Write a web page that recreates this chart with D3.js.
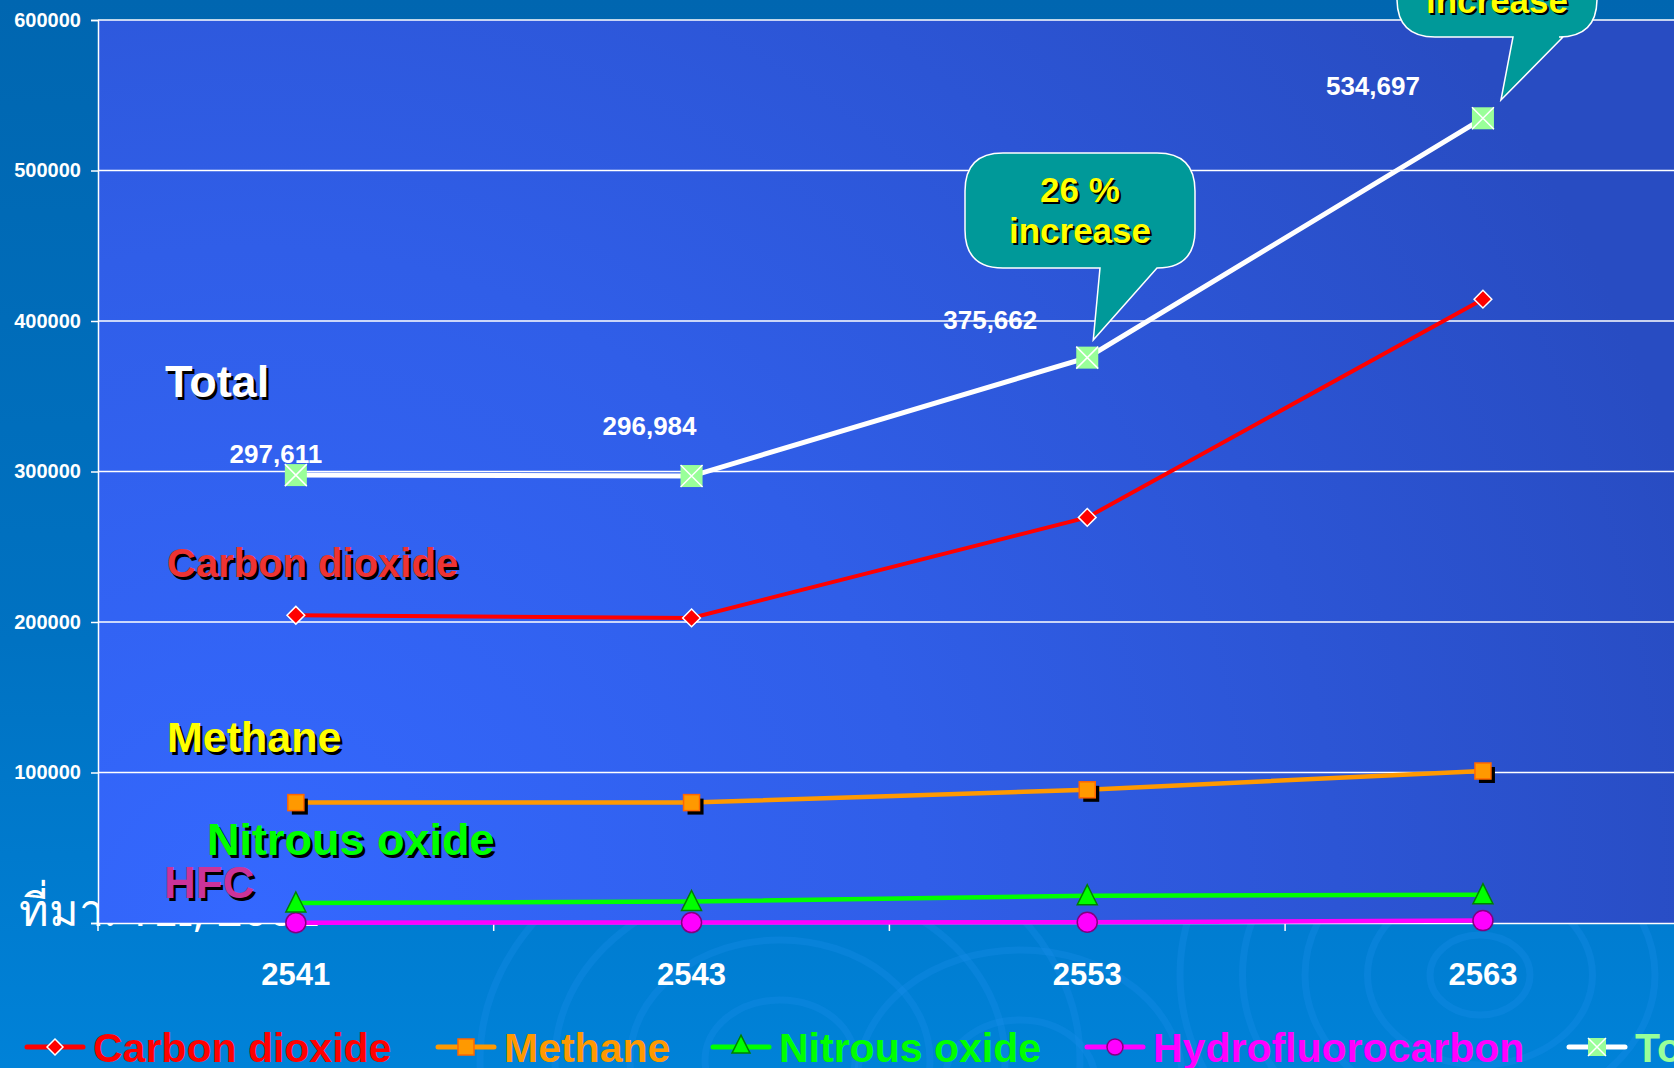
<!DOCTYPE html>
<html>
<head>
<meta charset="utf-8">
<script src="https://cdn.jsdelivr.net/npm/d3@7"></script>
<style>
  html, body { margin: 0; padding: 0; background: #0070c0; overflow: hidden; }
  svg { display: block; }
  text { font-family: "Liberation Sans", Arial, sans-serif; font-weight: bold; }
</style>
</head>
<body>
<svg id="chart" width="1674" height="1068"></svg>
<script>
// ---- data ----
const years = ["2541", "2543", "2553", "2563"];
const carbonDioxide = [204500, 202700, 269500, 414500];
const methane = [80000, 80000, 88500, 101000];
const nitrousOxide = [13300, 14300, 18100, 18800];
const hfc = [200, 300, 500, 1600];
const total = [297611, 296984, 375662, 534697];
const totalLabels = ["297,611", "296,984", "375,662", "534,697"];
const yTicks = [0, 100000, 200000, 300000, 400000, 500000, 600000];
const legendNames = ["Carbon dioxide", "Methane", "Nitrous oxide", "Hydrofluorocarbon", "Total"];

const W = 1674, H = 1068;
const svg = d3.select("#chart");
const defs = svg.append("defs");

// backgrounds
const bg = defs.append("linearGradient").attr("id", "bg").attr("x1", 0).attr("y1", 0).attr("x2", 0).attr("y2", 1);
bg.append("stop").attr("offset", "0%").attr("stop-color", "#0066b0");
bg.append("stop").attr("offset", "60%").attr("stop-color", "#0072c2");
bg.append("stop").attr("offset", "100%").attr("stop-color", "#0082d8");
svg.append("rect").attr("width", W).attr("height", H).attr("fill", "url(#bg)");

// ripple decoration
const ripples = svg.append("g").attr("fill", "none").attr("stroke", "#1a90ec").attr("stroke-opacity", 0.3).attr("stroke-width", 7);
[[1480, 975, [40, 90, 140, 190, 240]], [780, 1060, [60, 120, 180, 240]], [1020, 1080, [60, 130]]].forEach(([cx, cy, rs]) => {
  rs.forEach(r => ripples.append("ellipse").attr("cx", cx).attr("cy", cy).attr("rx", r * 1.25).attr("ry", r));
});

const x = d3.scaleBand().domain(years).range([98, 98 + 4 * 395.7]).paddingInner(0).paddingOuter(0);
const y = d3.scaleLinear().domain([0, 600000]).range([923, 20]);
const cx = d => x(d) + x.bandwidth() / 2;

// source text (mostly hidden behind plot)
svg.append("text").attr("x", 19).attr("y", 926).attr("fill", "#ffffff")
  .attr("font-size", 45).style("font-family", "'Noto Sans', 'DejaVu Sans', sans-serif").style("font-weight", "normal")
  .text("ที่มา: TEI, 2002");

// plot area
const pg = defs.append("radialGradient").attr("id", "plotbg").attr("gradientUnits", "userSpaceOnUse")
  .attr("cx", 250).attr("cy", 923).attr("r", 1500);
pg.append("stop").attr("offset", "0%").attr("stop-color", "#3468ff");
pg.append("stop").attr("offset", "45%").attr("stop-color", "#305ee8");
pg.append("stop").attr("offset", "100%").attr("stop-color", "#284cc2");
svg.append("rect").attr("x", 98).attr("y", 20).attr("width", W - 98).attr("height", 903).attr("fill", "url(#plotbg)");

// gridlines
svg.append("g").selectAll("line").data(yTicks.slice(1)).join("line")
  .attr("x1", 98).attr("x2", W).attr("y1", d => y(d)).attr("y2", d => y(d))
  .attr("stroke", "#ffffff").attr("stroke-width", 1.5);

// y axis
const yAxis = svg.append("g").attr("transform", "translate(98,0)")
  .call(d3.axisLeft(y).tickValues(yTicks).tickSize(7).tickPadding(10).tickFormat(d3.format("d")));
yAxis.select(".domain").attr("stroke", "#fff").attr("stroke-width", 1.5);
yAxis.selectAll(".tick line").attr("stroke", "#fff").attr("stroke-width", 1.5);
yAxis.selectAll(".tick text").attr("fill", "#fff").attr("font-size", 20).style("font-family", "'Liberation Sans', Arial, sans-serif").style("font-weight", "bold");
yAxis.selectAll(".tick").filter(d => d === 0).select("text").remove();

// x axis
const xAxis = svg.append("g").attr("transform", "translate(0,923)")
  .call(d3.axisBottom(x).tickSize(0).tickPadding(0));
xAxis.select(".domain").attr("stroke", "#fff").attr("stroke-width", 1.5);
xAxis.selectAll(".tick text").attr("fill", "#fff").attr("font-size", 31).attr("y", 62).attr("dy", 0)
  .style("font-family", "'Liberation Sans', Arial, sans-serif").style("font-weight", "bold");
// boundary tick marks
const bounds = years.map(d => x(d)).concat([x(years[3]) + x.bandwidth()]);
svg.append("g").selectAll("line").data(bounds).join("line")
  .attr("x1", d => d).attr("x2", d => d).attr("y1", 923).attr("y2", 931)
  .attr("stroke", "#fff").attr("stroke-width", 1.5);

// shadowed text helper
function sText(g, tx, ty, str, size, fill, anchor = "start", off = 2.5) {
  g.append("text").attr("x", tx + off).attr("y", ty + off).attr("font-size", size).attr("fill", "#000").attr("text-anchor", anchor).text(str);
  g.append("text").attr("x", tx).attr("y", ty).attr("font-size", size).attr("fill", fill).attr("text-anchor", anchor).text(str);
}

// series label annotations
const ann = svg.append("g");
sText(ann, 165, 397, "Total", 45, "#ffffff");
sText(ann, 167, 577, "Carbon dioxide", 40, "#ee3333");
sText(ann, 167, 752, "Methane", 43, "#ffff00");
sText(ann, 207, 855, "Nitrous oxide", 45, "#00ff00");
sText(ann, 164, 898, "HFC", 44, "#cc3399");

// lines
const line = d3.line().x((d, i) => cx(years[i])).y(d => y(d));
const series = [
  { vals: hfc, color: "#ff00ff", w: 4.5 },
  { vals: nitrousOxide, color: "#00ff00", w: 4.5 },
  { vals: methane, color: "#ff9900", w: 4.5 },
  { vals: carbonDioxide, color: "#ff0000", w: 4 },
  { vals: total, color: "#ffffff", w: 5 }
];
const lg = svg.append("g").attr("fill", "none");
series.forEach(s => lg.append("path").datum(s.vals).attr("d", line).attr("stroke", s.color).attr("stroke-width", s.w));

// markers
function marker(g, type, px, py, s) {
  if (type === "diamond") {
    g.append("path").attr("d", d3.symbol(d3.symbolDiamond2, s * s * 0.5)()).attr("transform", `translate(${px},${py})`)
      .attr("fill", "#ff0000").attr("stroke", "#ffffff").attr("stroke-width", 1.5);
  } else if (type === "square") {
    g.append("rect").attr("x", px - s / 2 + 4).attr("y", py - s / 2 + 4).attr("width", s).attr("height", s).attr("fill", "#000");
    g.append("rect").attr("x", px - s / 2).attr("y", py - s / 2).attr("width", s).attr("height", s)
      .attr("fill", "#ff9900").attr("stroke", "#ff6600").attr("stroke-width", 1.5);
  } else if (type === "triangle") {
    g.append("path").attr("d", `M${px},${py - s * 0.55} L${px + s / 2},${py + s * 0.45} L${px - s / 2},${py + s * 0.45} Z`)
      .attr("fill", "#00ff00").attr("stroke", "#008000").attr("stroke-width", 1.5);
  } else if (type === "circle") {
    g.append("circle").attr("cx", px).attr("cy", py).attr("r", s / 2).attr("fill", "#ff00ff").attr("stroke", "#800080").attr("stroke-width", 1.5);
  } else if (type === "xsquare") {
    g.append("rect").attr("x", px - s / 2).attr("y", py - s / 2).attr("width", s).attr("height", s).attr("fill", "#99ff99");
    g.append("path").attr("d", `M${px - s / 2},${py - s / 2} L${px + s / 2},${py + s / 2} M${px + s / 2},${py - s / 2} L${px - s / 2},${py + s / 2}`)
      .attr("stroke", "#ffffff").attr("stroke-width", 1.5);
  }
}
const mg = svg.append("g");
years.forEach((yr, i) => {
  marker(mg, "circle", cx(yr), y(hfc[i]), 20);
  marker(mg, "triangle", cx(yr), y(nitrousOxide[i]), 20);
  marker(mg, "square", cx(yr), y(methane[i]), 16);
  marker(mg, "diamond", cx(yr), y(carbonDioxide[i]), 20);
  marker(mg, "xsquare", cx(yr), y(total[i]), 22);
});

// total value labels
const labelOffsets = [[-20, -12], [-42, -41], [-97, -29], [-110, -23]];
years.forEach((yr, i) => {
  svg.append("text").attr("x", cx(yr) + labelOffsets[i][0]).attr("y", y(total[i]) + labelOffsets[i][1])
    .attr("fill", "#fff").attr("font-size", 26).attr("text-anchor", "middle").text(totalLabels[i]);
});

// callouts
function callout(x0, y0, w, h, r, t1, t2, tip, baseA, baseB, lines) {
  const g = svg.append("g");
  const p = d3.path();
  p.moveTo(x0 + r, y0);
  p.lineTo(x0 + w - r, y0);
  p.quadraticCurveTo(x0 + w, y0, x0 + w, y0 + r);
  p.lineTo(x0 + w, y0 + h - r);
  p.quadraticCurveTo(x0 + w, y0 + h, x0 + w - r, y0 + h);
  p.lineTo(baseB, y0 + h);
  p.lineTo(tip[0], tip[1]);
  p.lineTo(baseA, y0 + h);
  p.lineTo(x0 + r, y0 + h);
  p.quadraticCurveTo(x0, y0 + h, x0, y0 + h - r);
  p.lineTo(x0, y0 + r);
  p.quadraticCurveTo(x0, y0, x0 + r, y0);
  p.closePath();
  g.append("path").attr("d", p.toString()).attr("fill", "#009999").attr("stroke", "#ffffff").attr("stroke-width", 1.5);
  const mx = x0 + w / 2;
  sText(g, mx, lines[0], t1, 35, "#ffff00", "middle", 2);
  sText(g, mx, lines[1], t2, 35, "#ffff00", "middle", 2);
}
callout(965, 153, 230, 115, 38, "26 %", "increase", [cx("2553") + 6, 340], 1100, 1157, [202, 243]);
callout(1397, -78, 200, 115, 38, "42 %", "increase", [cx("2563") + 18, 100], 1513, 1563, [-29, 13]);

// legend
const legendColors = ["#ff0000", "#ff9900", "#00ff00", "#ff00ff", "#99ff99"];
const legendLine = ["#ff0000", "#ff9900", "#00ff00", "#ff00ff", "#ffffff"];
const legendTypes = ["diamond", "square", "triangle", "circle", "xsquare"];
const legendX = [27, 438, 713, 1087, 1569];
const lgd = svg.append("g");
legendNames.forEach((name, i) => {
  const x0 = legendX[i], ly = 1047;
  lgd.append("line").attr("x1", x0).attr("x2", x0 + 56).attr("y1", ly).attr("y2", ly)
    .attr("stroke", legendLine[i]).attr("stroke-width", 5).attr("stroke-linecap", "round");
  const g = lgd.append("g");
  if (legendTypes[i] === "square") {
    g.append("rect").attr("x", x0 + 28 - 8).attr("y", ly - 8).attr("width", 16).attr("height", 16)
      .attr("fill", "#ff9900").attr("stroke", "#ff6600").attr("stroke-width", 1.5);
  } else {
    marker(g, legendTypes[i], x0 + 28, legendTypes[i] === "triangle" ? ly - 2 : ly, legendTypes[i] === "circle" ? 16 : 18);
  }
  lgd.append("text").attr("x", x0 + 66).attr("y", 1062).attr("font-size", 41).attr("fill", legendColors[i]).text(name);
});
</script>
</body>
</html>
